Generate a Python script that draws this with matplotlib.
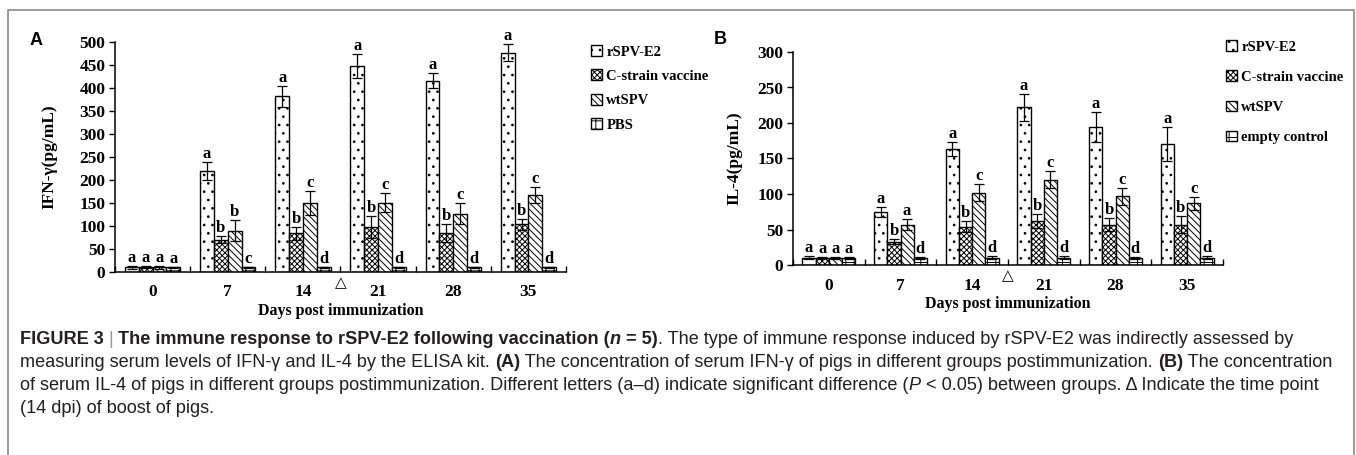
import matplotlib
matplotlib.use('Agg')
import matplotlib.pyplot as plt
from matplotlib.patches import Rectangle
import numpy as np

# ---- data ----
days = ['0', '7', '14', '21', '28', '35']

groups_a = ['rSPV-E2', 'C-strain vaccine', 'wtSPV', 'PBS']
ifn_rspv = [10, 220, 382, 448, 416, 477]
ifn_rspv_err = [3, 20, 23, 26, 17, 18]
ifn_cstrain = [10, 70, 84, 98, 85, 104]
ifn_cstrain_err = [2, 8, 14, 24, 19, 12]
ifn_wtspv = [10, 90, 150, 151, 127, 167]
ifn_wtspv_err = [3, 22, 26, 21, 22, 17]
ifn_pbs = [10, 10, 10, 10, 10, 10]
ifn_pbs_err = [1, 1, 1, 1, 1, 1]
ifn_letters = [['a', 'a', 'a', 'a'], ['a', 'b', 'b', 'c'], ['a', 'b', 'c', 'd'],
               ['a', 'b', 'c', 'd'], ['a', 'b', 'c', 'd'], ['a', 'b', 'c', 'd']]

groups_b = ['rSPV-E2', 'C-strain vaccine', 'wtSPV', 'empty control']
il4_rspv = [10, 74, 163, 222, 194, 170]
il4_rspv_err = [2, 7, 10, 19, 21, 24]
il4_cstrain = [10, 33, 54, 62, 57, 57]
il4_cstrain_err = [1, 4, 8, 10, 9, 12]
il4_wtspv = [10, 57, 102, 120, 97, 87]
il4_wtspv_err = [1, 8, 12, 12, 12, 9]
il4_empty = [10, 10, 10, 10, 10, 10]
il4_empty_err = [1, 1, 2, 2, 1, 2]
il4_letters = [['a', 'a', 'a', 'a'], ['a', 'b', 'a', 'd'], ['a', 'b', 'c', 'd'],
               ['a', 'b', 'c', 'd'], ['a', 'b', 'c', 'd'], ['a', 'b', 'c', 'd']]

hatches = ['..', 'xxxxxx', '\\\\\\\\\\', '++']
serif = 'Liberation Serif'
plt.rcParams['hatch.linewidth'] = 0.7

fig = plt.figure(figsize=(13.56, 4.55), dpi=100)

# outer frame of the figure box
fig.patches.append(Rectangle((8 / 1356, -0.2), 1346 / 1356, 1.2 - 10 / 455,
                             transform=fig.transFigure, fill=False,
                             edgecolor='#8a8a8a', lw=1.2))


def panel(rect, series, errs, letters, names, ymax, ystep, ylabel, ypad,
          leg_pos, leg_size, leg_space):
    ax = fig.add_axes(rect)
    x = np.arange(len(days))
    w = 0.184
    for i, (vals, e) in enumerate(zip(series, errs)):
        xs = x + (i - 1.5) * w
        ax.bar(xs, vals, width=w, color='white', edgecolor='black', lw=1,
               hatch=hatches[i], label=names[i], zorder=2)
        ax.errorbar(xs, vals, yerr=e, fmt='none', ecolor='black', elinewidth=0.9,
                    capsize=3.5, capthick=0.9, zorder=3)
        for j in range(len(days)):
            ax.annotate(letters[j][i], (xs[j], vals[j] + e[j]), xytext=(0, 0),
                        textcoords='offset points', ha='center', va='bottom',
                        fontsize=12, fontweight='bold', family=serif)
    ax.set_xlim(-0.5, len(days) - 0.5)
    ax.set_ylim(0, ymax)
    ax.set_yticks(np.arange(0, ymax + 1, ystep))
    ax.set_xticks(np.arange(-0.5, len(days)))
    ax.set_xticklabels([])
    ax.set_xticks(x, minor=True)
    ax.set_xticklabels(days, minor=True)
    ax.tick_params(axis='x', which='major', direction='in', length=4, width=1)
    ax.tick_params(axis='x', which='minor', length=0, pad=9)
    ax.tick_params(axis='y', direction='out', length=4, width=1, pad=3)
    for lab in ax.get_xticklabels(minor=True) + ax.get_yticklabels():
        lab.set_fontfamily(serif)
        lab.set_fontweight('bold')
        lab.set_fontsize(12.5)
    for s in ['top', 'right']:
        ax.spines[s].set_visible(False)
    for s in ['left', 'bottom']:
        ax.spines[s].set_linewidth(1.1)
    ax.set_ylabel(ylabel, fontsize=12.5, fontweight='bold', family=serif, labelpad=ypad)
    ax.set_xlabel('Days post immunization', fontsize=11.5, fontweight='bold',
                  family=serif, labelpad=2)
    # boost time point marker
    ax.annotate('\u25b3', (2.5, 0), xytext=(0, -2), textcoords='offset points',
                xycoords=('data', 'axes fraction'), ha='center', va='top',
                fontsize=11, family='DejaVu Sans')
    fig.legend(*ax.get_legend_handles_labels(), loc='upper left',
               bbox_to_anchor=leg_pos, frameon=False, handlelength=0.75,
               handleheight=0.75, handletextpad=0.3, labelspacing=leg_space,
               prop={'family': serif, 'weight': 'bold', 'size': leg_size})
    return ax


ax_a = panel([115 / 1356, 1 - 272 / 455, 451 / 1356, 230 / 455],
             [ifn_rspv, ifn_cstrain, ifn_wtspv, ifn_pbs],
             [ifn_rspv_err, ifn_cstrain_err, ifn_wtspv_err, ifn_pbs_err],
             ifn_letters, groups_a, 500, 50, 'IFN-\u03b3(pg/mL)', 16,
             (578 / 1356, 1 - 32 / 455), 10.5, 0.75)
ax_b = panel([793 / 1356, 1 - 265 / 455, 430 / 1356, 213 / 455],
             [il4_rspv, il4_cstrain, il4_wtspv, il4_empty],
             [il4_rspv_err, il4_cstrain_err, il4_wtspv_err, il4_empty_err],
             il4_letters, groups_b, 300, 50, 'IL-4(pg/mL)', 11,
             (1213 / 1356, 1 - 27 / 455), 10.5, 1.15)

fig.text(30 / 1356, 1 - 45 / 455, 'A', fontsize=13, fontweight='bold', family='Liberation Sans')
fig.text(714 / 1356, 1 - 44 / 455, 'B', fontsize=13, fontweight='bold', family='Liberation Sans')

# ---- caption, written run by run so bold / italic parts line up ----
cap_font = ['Liberation Sans', 'DejaVu Sans']
renderer = fig.canvas.get_renderer()


def runs(y, parts, x0=20, size=13.1):
    x = x0 / 1356
    for s, kw in parts:
        style = {'color': '#231f20'}
        style.update(kw)
        t = fig.text(x, 1 - y / 455, s, fontsize=size, family=cap_font,
                     va='baseline', **style)
        bb = t.get_window_extent(renderer=renderer)
        x += bb.width / fig.bbox.width


B = {'fontweight': 'bold'}
R = {}
I = {'fontstyle': 'italic'}
BI = {'fontweight': 'bold', 'fontstyle': 'italic'}
runs(344, [('FIGURE 3 ', B), ('| ', {'color': '#999999'}),
           ('The immune response to rSPV-E2 following vaccination (', B), ('n', BI),
           (' = 5)', B),
           ('. The type of immune response induced by rSPV-E2 was indirectly assessed by', R)])
runs(367, [('measuring serum levels of IFN-\u03b3 and IL-4 by the ELISA kit. ', R), ('(A)', B),
           (' The concentration of serum IFN-\u03b3 of pigs in different groups postimmunization. ', R),
           ('(B)', B), (' The concentration', R)])
runs(390, [('of serum IL-4 of pigs in different groups postimmunization. Different letters (a\u2013d) '
            'indicate significant difference (', R), ('P', I),
           (' < 0.05) between groups. \u0394 Indicate the time point', R)])
runs(413, [('(14 dpi) of boost of pigs.', R)])

fig.savefig('out.png', dpi=100)
